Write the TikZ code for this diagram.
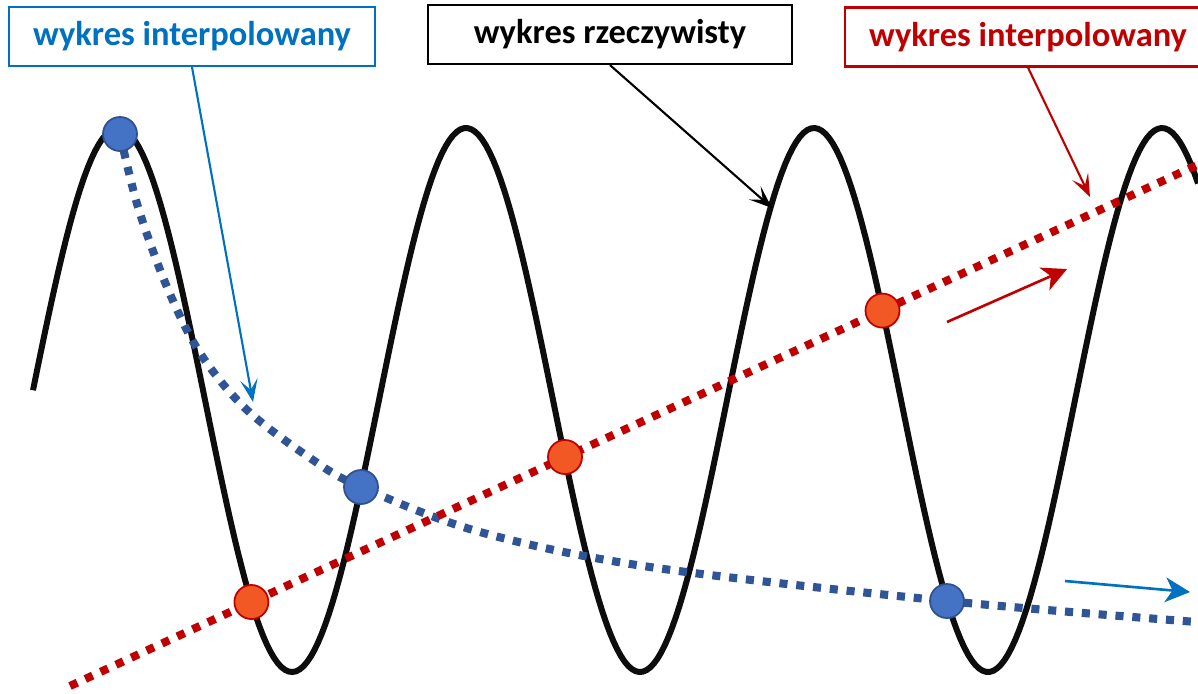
\documentclass[tikz,border=0pt]{standalone}
\usepackage{fontspec}
\setmainfont{Carlito}
\usetikzlibrary{arrows.meta}

\definecolor{labelblue}{RGB}{0,112,192}
\definecolor{labelred}{RGB}{192,0,0}
\definecolor{dotfill}{RGB}{68,114,196}
\definecolor{dotedge}{RGB}{47,82,143}
\definecolor{interpblue}{RGB}{47,85,151}
\definecolor{dotorange}{RGB}{242,88,36}

\begin{document}
\begin{tikzpicture}[x=0.01cm, y=-0.01cm,
    boxlabel/.style={draw, line width=0.6pt, fill=white, inner sep=0pt,
        minimum width=3.66cm, minimum height=0.59cm,
        font=\fontsize{9.8}{11.6}\selectfont\bfseries},
    realcurve/.style={line width=1.7pt, black!95},
    interpcurve/.style={line width=2.3pt, interpblue, dash pattern=on 2.3pt off 2.5pt},
    linecurve/.style={line width=2.3pt, labelred, dash pattern=on 2.3pt off 2.5pt},
    bluedot/.style={circle, fill=dotfill, draw=dotedge, line width=0.5pt,
        minimum size=0.34cm, inner sep=0pt},
    reddot/.style={circle, fill=dotorange, draw=labelred, line width=0.5pt,
        minimum size=0.34cm, inner sep=0pt},
    pointer/.style={line width=0.6pt, -{Stealth[length=6.5pt, width=5pt, inset=3pt]}},
    trend/.style={line width=0.75pt, -{Stealth[length=7pt, width=7pt, inset=2pt]}}]
    \useasboundingbox (0,0) rectangle (1198,693);
    \clip (0,0) rectangle (1198,693);

    % wykres rzeczywisty
    \draw[realcurve] plot[domain=33:1198, samples=320] (\x, {400-272*sin((\x-31)/348*360)});

    % wykresy interpolowane
    \draw[interpcurve] plot[smooth, tension=0.55] coordinates {(120,134) (138,207) (167,287)
        (200,353) (247,410) (313,460) (361,487) (480,532) (650,567) (947,601) (1210,623)};
    \draw[linecurve] (70,686) -- (1210,159);

    % punkty
    \node[bluedot] (b1) at (120,134) {};
    \node[bluedot] (b2) at (361,487) {};
    \node[bluedot] (b3) at (947,601) {};
    \node[reddot] (r1) at (251.4,602) {};
    \node[reddot] (r2) at (565,457) {};
    \node[reddot] (r3) at (882.5,310.6) {};

    % opisy
    \node[boxlabel, draw=labelblue, text=labelblue] (lblue) at (192,36.5) {wykres interpolowany};
    \node[boxlabel, minimum width=3.64cm] (lreal) at (610,34.5) {wykres rzeczywisty};
    \node[boxlabel, draw=labelred, text=labelred] (lred) at (1028,37) {wykres interpolowany};

    \coordinate (tipblue) at (253,402);
    \coordinate (tipreal) at (772,208);
    \coordinate (tipred) at (1090,197);
    \draw[pointer, labelblue] (lblue.south) -- (tipblue);
    \draw[pointer] (lreal.south) -- (tipreal);
    \draw[pointer, labelred] (lred.south) -- (tipred);

    % kierunki
    \coordinate (redfrom) at (947,322);
    \coordinate (redto) at (1067,269);
    \coordinate (bluefrom) at (1065,581);
    \coordinate (blueto) at (1190,592);
    \draw[trend, labelred] (redfrom) -- (redto);
    \draw[trend, labelblue] (bluefrom) -- (blueto);
\end{tikzpicture}
\end{document}
